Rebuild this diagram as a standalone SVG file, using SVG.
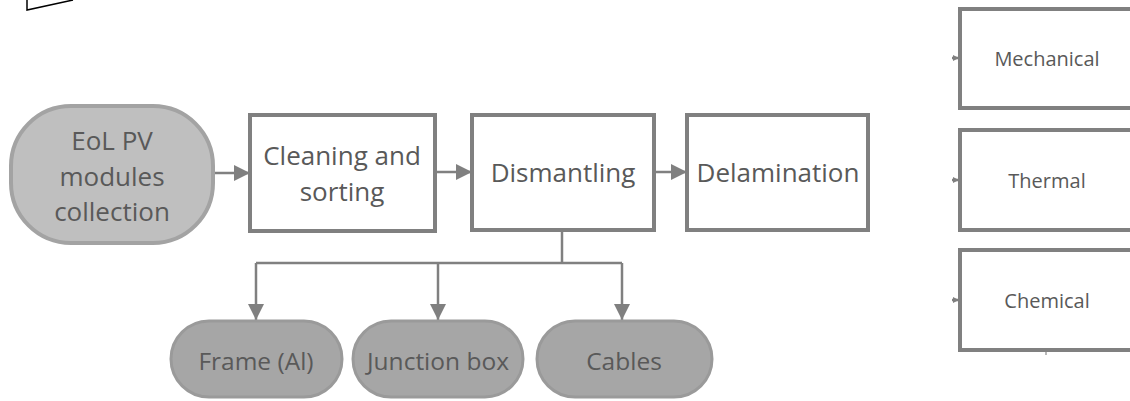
<svg xmlns="http://www.w3.org/2000/svg" width="1130" height="401" viewBox="0 0 1130 401">
<defs>
<style>
.box{fill:#ffffff;stroke:#808080;stroke-width:4}
.start{fill:#bfbfbf;stroke:#a3a3a3;stroke-width:4}
.out{fill:#a6a6a6;stroke:#9a9a9a;stroke-width:3}
.t{font-family:"Open Sans",Lato,sans-serif;font-size:26px;fill:#595959;text-anchor:middle;dominant-baseline:central}
.tb{font-family:"Open Sans",Lato,sans-serif;font-size:24.5px;fill:#595959;text-anchor:middle;dominant-baseline:central}
.ts{font-family:"Open Sans",Lato,sans-serif;font-size:20px;fill:#595959;text-anchor:middle;dominant-baseline:central}
.c{fill:none;stroke:#808080;stroke-width:2.5}
</style>
<marker id="ah" viewBox="0 0 10 10" refX="10" refY="5" markerWidth="6" markerHeight="6" markerUnits="userSpaceOnUse" orient="auto">
<path d="M0,0 L10,5 L0,10 z" fill="#808080"/>
</marker>
<marker id="ahb" viewBox="0 0 10 10" refX="10" refY="5" markerWidth="16" markerHeight="16" markerUnits="userSpaceOnUse" orient="auto">
<path d="M0,0 L10,5 L0,10 z" fill="#808080"/>
</marker>
</defs>
<rect width="1130" height="401" fill="#ffffff"/>
<g id="fragment">
<polyline points="27,0 27,10 73,0" fill="none" stroke="#000000" stroke-width="1.5"/>
</g>
<g id="connectors">
<line class="c" x1="213" y1="173" x2="250" y2="173" marker-end="url(#ahb)"/>
<line class="c" x1="435" y1="172" x2="472" y2="172" marker-end="url(#ahb)"/>
<line class="c" x1="654" y1="172" x2="687" y2="172" marker-end="url(#ahb)"/>
<polyline class="c" points="562,230 562,263"/>
<polyline class="c" points="256,263 622,263"/>
<line class="c" x1="256" y1="263" x2="256" y2="320" marker-end="url(#ahb)"/>
<line class="c" x1="438" y1="263" x2="438" y2="320" marker-end="url(#ahb)"/>
<line class="c" x1="622" y1="263" x2="622" y2="320" marker-end="url(#ahb)"/>
<line class="c" x1="952" y1="58" x2="959" y2="58" marker-end="url(#ah)"/>
<line class="c" x1="952" y1="180" x2="959" y2="180" marker-end="url(#ah)"/>
<line class="c" x1="952" y1="300" x2="959" y2="300" marker-end="url(#ah)"/>
<line x1="1046" y1="350" x2="1046" y2="355" stroke="#a0a0a0" stroke-width="1.5"/>
</g>
<g id="eol">
<rect class="start" x="11" y="106" width="202" height="137" rx="60" ry="60"/>
<text class="t" x="112" y="140">EoL PV</text>
<text class="t" x="112" y="176">modules</text>
<text class="t" x="112" y="211">collection</text>
</g>
<g id="cleaning">
<rect class="box" x="250" y="115" width="185" height="116"/>
<text class="t" x="342" y="155">Cleaning and</text>
<text class="t" x="342" y="191">sorting</text>
</g>
<g id="dismantling">
<rect class="box" x="472" y="115" width="182" height="115"/>
<text class="t" x="563" y="172">Dismantling</text>
</g>
<g id="delamination">
<rect class="box" x="687" y="115" width="181" height="115"/>
<text class="t" x="778" y="172">Delamination</text>
</g>
<g id="frame">
<rect class="out" x="171" y="321" width="171" height="76" rx="38" ry="38"/>
<text class="tb" x="256" y="360">Frame (Al)</text>
</g>
<g id="junction">
<rect class="out" x="353" y="321" width="170" height="76" rx="38" ry="38"/>
<text class="tb" x="438" y="360">Junction box</text>
</g>
<g id="cables">
<rect class="out" x="537" y="321" width="175" height="76" rx="38" ry="38"/>
<text class="tb" x="624" y="360">Cables</text>
</g>
<g id="mechanical">
<rect class="box" x="960" y="9" width="180" height="99"/>
<text class="ts" x="1047" y="58">Mechanical</text>
</g>
<g id="thermal">
<rect class="box" x="960" y="130" width="180" height="100"/>
<text class="ts" x="1047" y="180">Thermal</text>
</g>
<g id="chemical">
<rect class="box" x="960" y="250" width="180" height="100"/>
<text class="ts" x="1047" y="300">Chemical</text>
</g>
</svg>
